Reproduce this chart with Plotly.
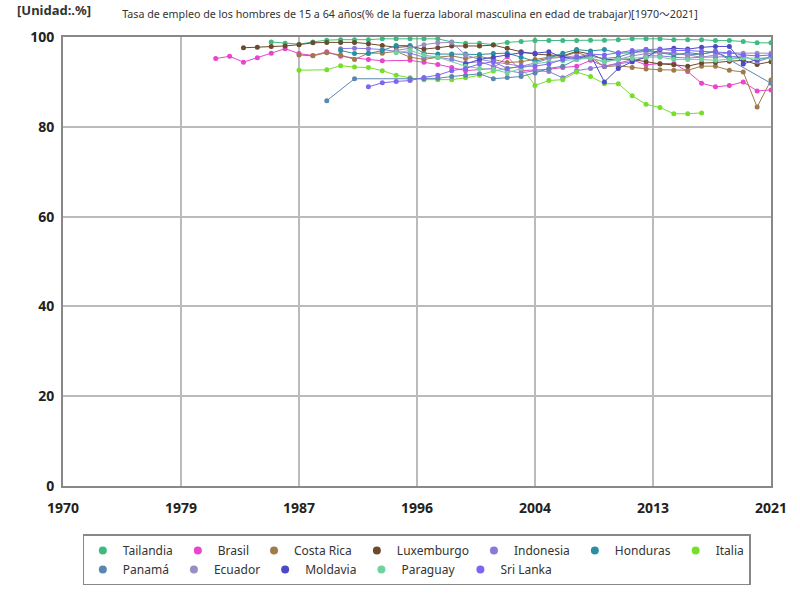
import plotly.graph_objects as go

# ---------------- data ----------------
tailandia_years = list(range(1985, 2022))
tailandia_vals = [98.9, 98.6, 98.4, 98.9, 99.3, 99.4, 99.4, 99.4, 99.6, 99.6, 99.6, 99.6, 99.6,
                  98.9, 98.6, 98.6, 98.3, 98.8, 99.0, 99.2, 99.2, 99.2, 99.2, 99.3, 99.3, 99.4,
                  99.6, 99.6, 99.6, 99.4, 99.4, 99.4, 99.2, 99.2, 99.0, 98.7, 98.7]

brasil_years = [1981, 1982, 1983, 1984, 1985, 1986, 1987, 1988, 1989, 1990, 1992, 1993, 1995, 1996,
                1997, 1998, 1999, 2001, 2002, 2003, 2004, 2005, 2006, 2007, 2008, 2009, 2011, 2012,
                2013, 2014, 2015, 2016, 2017, 2018, 2019, 2020, 2021]
brasil_vals = [95.2, 95.7, 94.4, 95.4, 96.4, 97.4, 96.3, 95.9, 96.7, 95.7, 95.0, 94.7, 94.8, 94.4,
               93.9, 93.2, 92.5, 93.0, 95.6, 92.5, 92.7, 92.8, 93.2, 93.5, 94.8, 93.5, 94.9, 93.8,
               94.1, 94.1, 92.3, 89.7, 88.9, 89.2, 90.0, 88.0, 88.2]

costa_rica_years = list(range(1987, 2022))
costa_rica_vals = [96.0, 95.8, 96.5, 96.0, 95.0, 96.4, 96.4, 96.8, 95.5, 95.0, 95.5, 95.8, 95.2,
                   95.7, 95.0, 94.3, 94.5, 95.0, 95.5, 95.6, 96.6, 95.5, 93.4, 93.6, 93.2, 92.9,
                   92.7, 92.6, 92.6, 93.5, 93.5, 92.6, 92.2, 84.4, 90.4]

luxemburgo_years = list(range(1983, 2022))
luxemburgo_vals = [97.6, 97.7, 97.9, 98.0, 98.3, 98.7, 98.8, 98.8, 98.8, 98.5, 98.1, 97.7, 97.9,
                   97.3, 97.6, 98.0, 98.0, 98.0, 98.2, 97.5, 96.7, 96.2, 96.0, 95.8, 96.8, 96.2,
                   94.9, 95.1, 95.0, 94.5, 94.0, 93.8, 93.5, 94.2, 94.3, 94.6, 94.8, 93.9, 94.5]

indonesia_years = list(range(1990, 2022))
indonesia_vals = [97.4, 97.5, 97.4, 97.2, 96.8, 96.4, 95.5, 95.5, 95.0, 94.2, 94.5, 93.5, 92.5,
                  92.0, 92.5, 92.3, 90.9, 92.5, 93.0, 93.5, 94.0, 94.5, 95.8, 95.8, 95.5, 95.3,
                  95.5, 95.5, 95.6, 95.8, 94.5, 95.5]

honduras_years = list(range(1990, 2020))
honduras_vals = [97.0, 96.3, 96.3, 97.0, 98.1, 98.1, 96.4, 96.2, 96.2, 96.2, 96.1, 96.3, 96.4,
                 95.5, 94.6, 95.3, 96.4, 97.2, 96.9, 97.2, 96.4, 96.5, 97.2, 96.5, 96.0, 96.5,
                 96.2, 96.8, 95.2, 95.5]

italia_years = [1987, 1989, 1990, 1991, 1992, 1993, 1994, 1995, 1996, 1997, 1998, 1999, 2000,
                2001, 2002, 2003, 2004, 2005, 2006, 2007, 2008, 2009, 2010, 2011, 2012, 2013,
                2014, 2015, 2016]
italia_vals = [92.6, 92.7, 93.6, 93.3, 93.2, 92.5, 91.5, 90.9, 90.5, 90.5, 90.5, 90.9, 91.5,
               92.4, 93.0, 93.4, 89.2, 90.3, 90.5, 92.2, 91.2, 89.6, 89.6, 86.9, 85.0, 84.3,
               82.9, 82.9, 83.1]

panama_years = [1989, 1991, 1995, 1996, 1997, 1998, 1999, 2000, 2001, 2002, 2003, 2004, 2005,
                2006, 2007, 2008, 2009, 2010, 2011, 2012, 2013, 2014, 2015, 2016, 2017, 2021]
panama_vals = [85.8, 90.7, 90.7, 90.7, 90.8, 91.2, 91.5, 91.8, 90.7, 91.0, 91.2, 92.0, 93.0,
               93.5, 95.0, 95.7, 95.2, 95.5, 96.5, 96.8, 96.5, 96.3, 96.0, 96.2, 96.7, 89.7]

ecuador_years = [1994, 1995, 1996, 1997, 1998, 1999, 2000, 2001, 2003, 2004, 2005, 2006, 2007,
                 2008, 2009, 2010, 2011, 2012, 2013, 2014, 2015, 2016, 2017, 2018, 2019, 2020, 2021]
ecuador_vals = [97.0, 97.5, 98.3, 98.7, 98.8, 96.0, 95.0, 94.5, 93.5, 94.2, 95.2, 95.5, 95.8,
                95.2, 94.5, 95.0, 95.8, 96.3, 96.5, 96.5, 96.0, 95.5, 96.0, 96.5, 96.4, 96.4, 96.4]

moldavia_years = list(range(1999, 2022))
moldavia_vals = [94.0, 95.0, 95.5, 96.0, 96.5, 96.4, 96.7, 95.5, 95.2, 96.0, 90.0, 93.0, 94.5,
                 95.5, 97.2, 97.5, 97.3, 97.7, 97.9, 97.9, 94.0, 95.0, 95.5]

paraguay_years = [1994, 1995, 1996, 1997, 1999, 2000, 2001, 2002, 2003, 2004, 2005, 2006, 2007,
                  2008, 2009, 2010, 2011, 2012, 2013, 2014, 2015, 2016, 2017, 2018, 2019, 2020, 2021]
paraguay_vals = [96.5, 97.0, 96.0, 95.5, 93.5, 93.0, 92.8, 92.0, 93.0, 94.0, 94.5, 94.7, 95.0,
                 95.3, 94.5, 95.0, 95.2, 95.5, 95.5, 95.0, 95.0, 95.0, 94.8, 95.0, 95.3, 95.3, 95.3]

sri_lanka_years = list(range(1992, 2022))
sri_lanka_vals = [88.9, 89.8, 90.1, 90.3, 91.0, 91.5, 92.5, 93.0, 94.0, 94.5, 93.0, 93.5, 93.5,
                  94.0, 95.0, 95.5, 96.2, 96.0, 96.5, 97.0, 97.2, 97.3, 97.0, 97.0, 96.8, 96.7,
                  96.5, 96.0, 95.8, 96.0]

series_names = ["Tailandia", "Brasil", "Costa Rica", "Luxemburgo", "Indonesia", "Honduras",
                "Italia", "Panamá", "Ecuador", "Moldavia", "Paraguay", "Sri Lanka"]
series_x = [tailandia_years, brasil_years, costa_rica_years, luxemburgo_years, indonesia_years,
            honduras_years, italia_years, panama_years, ecuador_years, moldavia_years,
            paraguay_years, sri_lanka_years]
series_y = [tailandia_vals, brasil_vals, costa_rica_vals, luxemburgo_vals, indonesia_vals,
            honduras_vals, italia_vals, panama_vals, ecuador_vals, moldavia_vals,
            paraguay_vals, sri_lanka_vals]
series_colors = ["#3dba7e", "#e845cc", "#a07a4a", "#6b4a2e", "#8a7ad8", "#2a8fa0",
                 "#78de2c", "#5a86b0", "#9a8cc4", "#4a4ac8", "#6fd3a0", "#7b68ee"]

x_tick_vals = [1970, 1978.5, 1987, 1995.5, 2004, 2012.5, 2021]
x_tick_text = ["1970", "1979", "1987", "1996", "2004", "2013", "2021"]
y_tick_vals = [0, 20, 40, 60, 80, 100]

title_text = "Tasa de empleo de los hombres de 15 a 64 años(% de la fuerza laboral masculina en edad de trabajar)[1970～2021]"
unit_text = "[Unidad:.%]"

# ---------------- figure ----------------
FONT = "Noto Sans, Noto Sans CJK JP, sans-serif"
fig = go.Figure()

for name, xs, ys, col in zip(series_names, series_x, series_y, series_colors):
    fig.add_trace(go.Scatter(
        x=xs, y=ys, mode="lines+markers", name=name,
        line=dict(color=col, width=1),
        marker=dict(color=col, size=5),
        showlegend=False, legendgroup=name,
        hovertemplate=name + ": %{y}<extra></extra>"))

for name, col in zip(series_names, series_colors):
    fig.add_trace(go.Scatter(
        x=[None], y=[None], mode="markers", name=name,
        marker=dict(color=col, size=8), legendgroup=name, showlegend=True))

fig.update_layout(
    width=800, height=600,
    margin=dict(l=63, r=29, t=37, b=114),
    paper_bgcolor="white", plot_bgcolor="white",
    font=dict(family=FONT, color="#333"),
    title=dict(text=title_text, x=0.5125, xanchor="center", y=0.976, yanchor="middle",
               font=dict(size=10.7, color="#333", family=FONT)),
    showlegend=True,
    legend=dict(orientation="h", x=0.028, xanchor="left", y=-0.108, yanchor="top",
                bordercolor="#888", borderwidth=1.5, font=dict(size=12, color="#333"),
                itemwidth=30, tracegroupgap=0),
    annotations=[dict(text="<b>" + unit_text + "</b>", xref="paper", yref="paper",
                      x=-0.068, y=1.06, xanchor="left", yanchor="middle", showarrow=False,
                      font=dict(size=13, color="#333", family=FONT))],
)

fig.update_xaxes(range=[1970, 2021], tickvals=x_tick_vals, ticktext=x_tick_text,
                 showgrid=True, gridcolor="#bbbbbb", gridwidth=2,
                 showline=True, linecolor="#888", linewidth=2, mirror=True,
                 zeroline=False, ticks="", ticklabelstandoff=8,
                 tickfont=dict(size=14, color="#222", family=FONT, weight="bold"))
fig.update_yaxes(range=[0, 100], tickvals=y_tick_vals,
                 showgrid=True, gridcolor="#bbbbbb", gridwidth=2,
                 showline=True, linecolor="#888", linewidth=2, mirror=True,
                 zeroline=False, ticks="", ticklabelstandoff=4,
                 tickfont=dict(size=14, color="#222", family=FONT, weight="bold"))

fig.write_html("out.html", config={"displayModeBar": False},
               post_script="document.body.style.margin='0';document.body.style.padding='0';")
